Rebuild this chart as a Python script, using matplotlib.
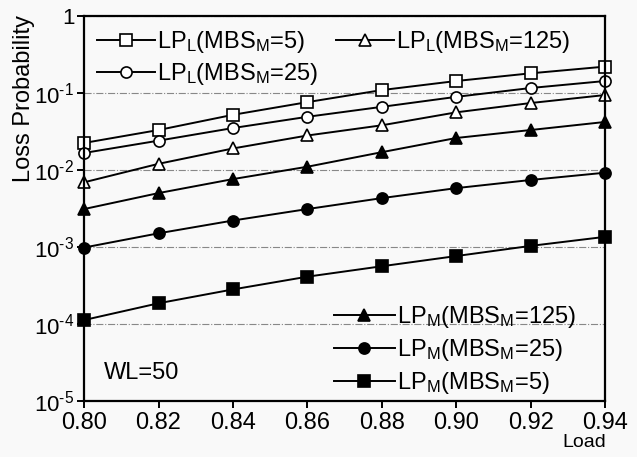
import numpy as np
import matplotlib
matplotlib.use('Agg')
import matplotlib.pyplot as plt
from matplotlib.ticker import FixedLocator, FuncFormatter, NullLocator

plt.rcParams['font.family'] = ['Liberation Sans', 'DejaVu Sans']
plt.rcParams['mathtext.fontset'] = 'custom'
plt.rcParams['mathtext.rm'] = 'Liberation Sans'
plt.rcParams['mathtext.default'] = 'regular'

# --- data ---
load = [0.80, 0.82, 0.84, 0.86, 0.88, 0.90, 0.92, 0.94]

lpl_5 = [0.0224, 0.033, 0.052, 0.076, 0.109, 0.143, 0.18, 0.22]
lpl_25 = [0.0166, 0.024, 0.035, 0.049, 0.066, 0.089, 0.116, 0.143]
lpl_125 = [0.0069, 0.012, 0.019, 0.028, 0.038, 0.056, 0.074, 0.094]

lpm_125 = [0.0031, 0.005, 0.0076, 0.011, 0.017, 0.026, 0.033, 0.042]
lpm_25 = [0.00098, 0.0015, 0.0022, 0.0031, 0.0043, 0.0058, 0.0074, 0.0092]
lpm_5 = [0.000112, 0.000185, 0.00028, 0.00041, 0.00056, 0.00076, 0.00103, 0.00135]

xticks = [0.80, 0.82, 0.84, 0.86, 0.88, 0.90, 0.92, 0.94]
yticks = [1e-5, 1e-4, 1e-3, 1e-2, 1e-1, 1]

FS = 17

fig = plt.figure(figsize=(6.37, 4.57), dpi=100)
fig.patch.set_facecolor('#f9f9f9')
ax = fig.add_axes([0.132, 0.123, 0.818, 0.842])
ax.set_facecolor('#f9f9f9')

kw = dict(color='black', lw=1.4, ms=8, mew=1.2)
h1, = ax.plot(load, lpl_5, marker='s', mfc='white', **kw,
              label=r'LP$_{L}$(MBS$_{M}$=5)')
h2, = ax.plot(load, lpl_25, marker='o', mfc='white', **kw,
              label=r'LP$_{L}$(MBS$_{M}$=25)')
h3, = ax.plot(load, lpl_125, marker='^', mfc='white', **kw,
              label=r'LP$_{L}$(MBS$_{M}$=125)')
h4, = ax.plot(load, lpm_125, marker='^', mfc='black', **kw,
              label=r'LP$_{M}$(MBS$_{M}$=125)')
h5, = ax.plot(load, lpm_25, marker='o', mfc='black', **kw,
              label=r'LP$_{M}$(MBS$_{M}$=25)')
h6, = ax.plot(load, lpm_5, marker='s', mfc='black', **kw,
              label=r'LP$_{M}$(MBS$_{M}$=5)')
for h in (h1, h2, h3, h4, h5, h6):
    h.set_clip_on(False)

ax.set_yscale('log')
ax.set_xlim(0.80, 0.94)
ax.set_ylim(1e-5, 1)
ax.xaxis.set_major_locator(FixedLocator(xticks))
ax.xaxis.set_major_formatter(FuncFormatter(lambda v, p: f'{v:.2f}'))
ax.yaxis.set_major_locator(FixedLocator(yticks))
ax.yaxis.set_minor_locator(NullLocator())


def yfmt(v, p):
    e = int(round(np.log10(v)))
    if e == 0:
        return '1'
    # short hyphen instead of the wide math minus
    return '$10^{\u2010%d}$' % (-e)


ax.yaxis.set_major_formatter(FuncFormatter(yfmt))
ax.tick_params(direction='out', length=5, width=1.4, labelsize=FS)
ax.tick_params(axis='x', pad=3)
ax.tick_params(axis='y', pad=2, labelsize=16)
for s in ax.spines.values():
    s.set_linewidth(1.6)

ax.yaxis.grid(True, linestyle='-.', color='#888888', lw=0.8)
ax.set_axisbelow(True)

ax.set_ylabel('Loss Probability', fontsize=FS)
ax.yaxis.set_label_coords(-0.095, 0.785)
ax.set_xlabel('Load', fontsize=14)
ax.xaxis.set_label_coords(0.96, -0.086)

ax.text(0.8052, 2.3e-5, 'WL=50', fontsize=FS, va='center', ha='left')

leg1 = ax.legend(handles=[h1, h2, h3], ncol=2, loc='upper left',
                 bbox_to_anchor=(0.0, 1.0), frameon=False, fontsize=FS,
                 handlelength=2.45, handletextpad=0.1, columnspacing=0.75,
                 labelspacing=0.25, borderaxespad=0.15)
ax.add_artist(leg1)
ax.legend(handles=[h4, h5, h6], loc='lower right',
          bbox_to_anchor=(0.972, -0.025), frameon=False, fontsize=FS,
          handlelength=2.6, handletextpad=0.1, labelspacing=0.3,
          borderaxespad=0.2)

fig.savefig('out.png', dpi=100, facecolor=fig.get_facecolor())
